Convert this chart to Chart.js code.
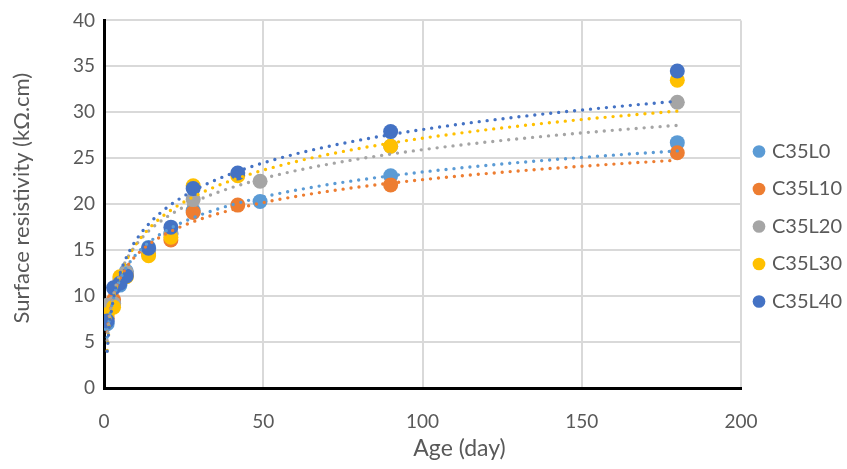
<!DOCTYPE html>
<html>
<head>
<meta charset="utf-8">
<script src="https://cdn.jsdelivr.net/npm/chart.js@4.4.1/dist/chart.umd.min.js"></script>
<style>
  html, body { margin: 0; padding: 0; background: #ffffff; }
  #wrap { width: 847px; height: 469px; position: relative; }
</style>
</head>
<body>
<div id="wrap"><canvas id="c" width="847" height="469"></canvas></div>
<script>
// ---- data ----
const seriesNames = ['C35L0', 'C35L10', 'C35L20', 'C35L30', 'C35L40'];
const agesA = [1, 3, 5, 7, 14, 21, 28, 49, 90, 180];   // C35L0, C35L20
const agesB = [1, 3, 5, 7, 14, 21, 28, 42, 90, 180];   // C35L10, C35L30, C35L40
const c35l0  = [7.0, 9.2, 11.2, 12.7, 15.3, 16.8, 19.3, 20.3, 23.1, 26.7];
const c35l10 = [7.6, 9.6, 11.6, 12.3, 14.6, 16.1, 19.1, 19.9, 22.1, 25.6];
const c35l20 = [9.0, 9.2, 11.8, 12.6, 14.9, 16.7, 20.5, 22.5, 26.3, 31.1];
const c35l30 = [8.0, 8.8, 12.1, 12.1, 14.4, 16.4, 22.0, 23.1, 26.3, 33.5];
const c35l40 = [7.3, 10.9, 11.4, 12.2, 15.2, 17.5, 21.7, 23.4, 27.9, 34.5];
const xTicks = [0, 50, 100, 150, 200];
const yTicks = [0, 5, 10, 15, 20, 25, 30, 35, 40];

const seriesAges = [agesA, agesB, agesA, agesB, agesB];
const seriesVals = [c35l0, c35l10, c35l20, c35l30, c35l40];
const colors = ['#5B9BD5', '#ED7D31', '#A5A5A5', '#FFC000', '#4472C4'];

// logarithmic trendline (least squares on ln x), as in the spreadsheet
function logFit(xs, ys) {
  const lx = xs.map(Math.log);
  const n = xs.length;
  const mx = lx.reduce((a, b) => a + b, 0) / n;
  const my = ys.reduce((a, b) => a + b, 0) / n;
  let sxy = 0, sxx = 0;
  for (let i = 0; i < n; i++) { sxy += (lx[i] - mx) * (ys[i] - my); sxx += (lx[i] - mx) ** 2; }
  const b = sxy / sxx;
  return { a: my - b * mx, b };
}

const FONT = 'Lato, "Open Sans", sans-serif';
const TXT = '#595959';

const datasets = [];
seriesNames.forEach((name, i) => {
  datasets.push({
    label: name,
    data: seriesAges[i].map((x, k) => ({ x, y: seriesVals[i][k] })),
    backgroundColor: colors[i],
    borderColor: colors[i],
    borderWidth: 0,
    pointRadius: 7.5,
    pointHoverRadius: 7.5,
    pointStyle: 'circle',
    order: 5 - i
  });
});
seriesNames.forEach((name, i) => {
  const xs = seriesAges[i];
  const f = logFit(xs, seriesVals[i]);
  const x0 = Math.min(...xs), x1 = Math.max(...xs);
  const pts = [];
  for (let x = x0; x <= x1 + 1e-9; x += 0.5) pts.push({ x, y: f.a + f.b * Math.log(x) });
  datasets.push({
    label: name + ' trend',
    data: pts,
    showLine: true,
    borderColor: colors[i],
    backgroundColor: colors[i],
    borderWidth: 3.4,
    borderDash: [0, 8],
    borderCapStyle: 'round',
    pointRadius: 0,
    pointHoverRadius: 0,
    tension: 0,
    fill: false,
    order: -1 - i
  });
});

function shiftTitle(scale, dx, dy) {
  if (!scale || scale._shifted) return;
  const orig = scale.drawTitle.bind(scale);
  scale.drawTitle = function () {
    const ctx = this.ctx;
    ctx.save();
    ctx.translate(dx, dy);
    orig();
    ctx.restore();
  };
  scale._shifted = true;
}

const placement = {
  id: 'placement',
  afterLayout(chart) {
    const lg = chart.legend;
    if (lg) {
      const h = lg.bottom - lg.top;
      lg.left = 738.5;
      lg.right = 847;
      lg.width = lg.right - lg.left;
      lg.top = 124;
      lg.bottom = lg.top + h;
    }
    shiftTitle(chart.scales.x, 37, 0);
    shiftTitle(chart.scales.y, 0, -6);
  }
};

new Chart(document.getElementById('c'), {
  type: 'scatter',
  data: { datasets },
  plugins: [placement],
  options: {
    responsive: false,
    animation: false,
    devicePixelRatio: 1,
    layout: { padding: { left: 0, top: 15, right: 6, bottom: 0 } },
    plugins: {
      tooltip: { enabled: false },
      legend: {
        position: 'right',
        align: 'start',
        reverse: true,
        maxWidth: 100,
        labels: {
          filter: (item) => item.datasetIndex < 5,
          usePointStyle: true,
          pointStyle: 'circle',
          boxWidth: 6,
          boxHeight: 9,
          padding: 17.5,
          color: TXT,
          font: { family: FONT, size: 20 }
        }
      }
    },
    scales: {
      x: {
        type: 'linear',
        min: 0, max: 200,
        afterBuildTicks: (s) => { s.ticks = xTicks.map(v => ({ value: v })); },
        afterFit: (s) => { s.height = 81; },
        grid: { color: '#d9d9d9', lineWidth: 2, drawTicks: false },
        border: { color: '#000000', width: 3 },
        ticks: { color: TXT, font: { family: FONT, size: 19 }, padding: 22, maxRotation: 0 },
        title: { display: true, text: 'Age (day)', color: TXT, font: { family: FONT, size: 23 }, padding: { top: 0, bottom: 7 } }
      },
      y: {
        type: 'linear',
        min: 0, max: 40,
        afterBuildTicks: (s) => { s.ticks = yTicks.map(v => ({ value: v })); },
        afterFit: (s) => { s.width = 104; },
        grid: { color: '#d9d9d9', lineWidth: 2, drawTicks: false },
        border: { color: '#000000', width: 3 },
        ticks: { color: TXT, font: { family: FONT, size: 19 }, padding: 9 },
        title: { display: true, text: 'Surface resistivity (kΩ.cm)', color: TXT, font: { family: FONT, size: 22 }, padding: { top: 9, bottom: 0 } }
      }
    }
  }
});
</script>
</body>
</html>
